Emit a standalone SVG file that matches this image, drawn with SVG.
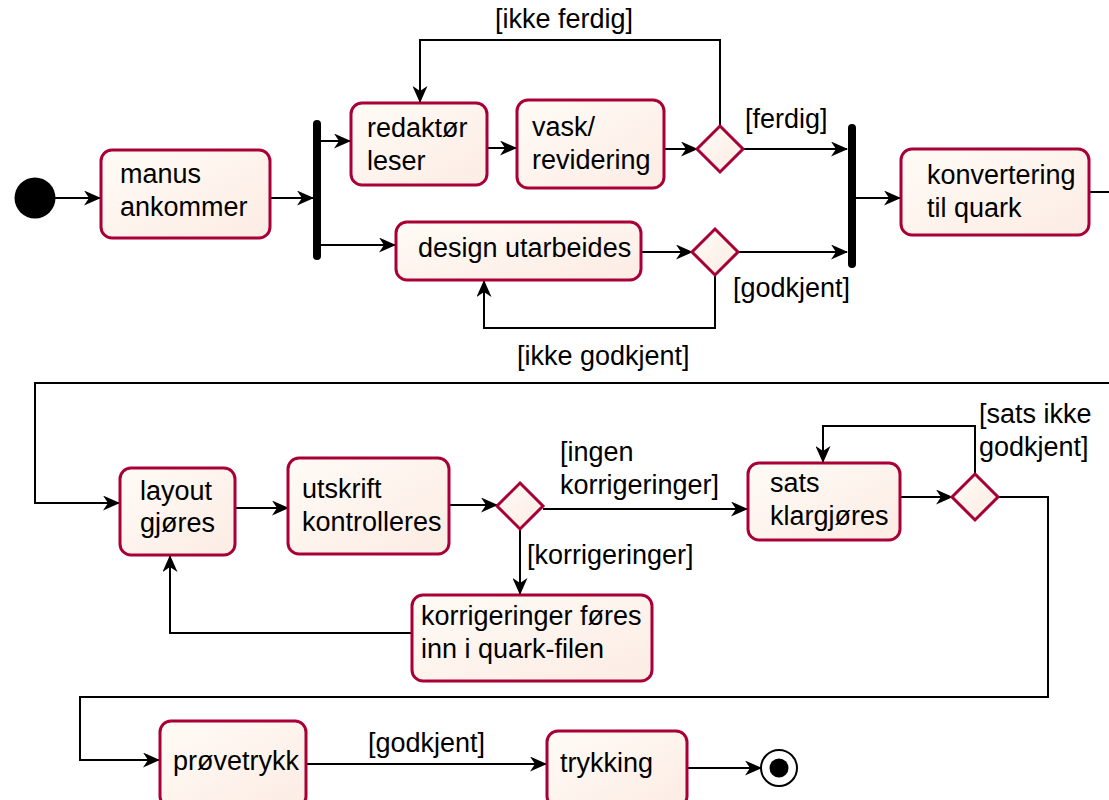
<svg xmlns="http://www.w3.org/2000/svg" width="1109" height="800" viewBox="0 0 1109 800">
  <defs>
    <linearGradient id="boxFill" x1="0" y1="0" x2="1" y2="1">
      <stop offset="0" stop-color="#fffbf6"/>
      <stop offset="1" stop-color="#fcece4"/>
    </linearGradient>
    <marker id="arrow" viewBox="0 0 17 15" refX="16" refY="7.5" markerWidth="17" markerHeight="15" markerUnits="userSpaceOnUse" orient="auto">
      <path d="M0,0 L17,7.5 L0,15 L5,7.5 Z" fill="#000"/>
    </marker>
  </defs>
  <style>
    .box { fill: url(#boxFill); stroke: #a80036; stroke-width: 3; }
    .dec { fill: url(#boxFill); stroke: #a80036; stroke-width: 3; }
    .bar { fill: #000; }
    .t { font-family: "Liberation Sans", Arial, sans-serif; font-size: 27px; fill: #000; }
    .edge { fill: none; stroke: #000; stroke-width: 2; marker-end: url(#arrow); }
  </style>
  <rect width="1109" height="800" fill="#fff"/>

  <!-- connectors -->
  <g id="connectors">
    <path class="edge" d="M55,198 H100"/>
    <path class="edge" d="M270,198 H313"/>
    <path class="edge" d="M321,141 H350"/>
    <path class="edge" d="M321,245 H395"/>
    <path class="edge" d="M487,148 H516"/>
    <path class="edge" d="M664,149 H697"/>
    <path class="edge" d="M720,126 V40 H420 V102"/>
    <path class="edge" d="M743,149 H847"/>
    <path class="edge" d="M641,252 H692"/>
    <path class="edge" d="M738,252 H847"/>
    <path class="edge" d="M715,275 V328 H484 V281"/>
    <path class="edge" d="M856,198 H900"/>
    <path class="edge" d="M1089,192 H1112 V383 H35 V503 H119"/>
    <path class="edge" d="M235,508 H288"/>
    <path class="edge" d="M449,505 H497"/>
    <path class="edge" d="M543,509 H747"/>
    <path class="edge" d="M520,529 V594"/>
    <path class="edge" d="M412,633 H170 V556"/>
    <path class="edge" d="M900,497 H952"/>
    <path class="edge" d="M975,474 V426 H823 V462"/>
    <path class="edge" d="M998,497 H1048 V697 H80 V760 H159"/>
    <path class="edge" d="M306,764 H546"/>
    <path class="edge" d="M687,768 H761"/>

    <text class="t" x="495" y="28">[ikke ferdig]</text>
    <text class="t" x="745" y="128">[ferdig]</text>
    <text class="t" x="733" y="297">[godkjent]</text>
    <text class="t" x="517" y="365">[ikke godkjent]</text>
    <text class="t" x="560" y="461">[ingen</text>
    <text class="t" x="560" y="494">korrigeringer]</text>
    <text class="t" x="527" y="564">[korrigeringer]</text>
    <text class="t" x="979" y="423">[sats ikke</text>
    <text class="t" x="979" y="456">godkjent]</text>
    <text class="t" x="368" y="752">[godkjent]</text>
  </g>

  <!-- start / end -->
  <g id="start"><circle cx="35" cy="198" r="20.5" fill="#000"/></g>
  <g id="end">
    <circle cx="779" cy="768" r="18" fill="#fff" stroke="#000" stroke-width="2"/>
    <circle cx="779" cy="768" r="9.5" fill="#000"/>
  </g>

  <!-- fork / join bars -->
  <g id="fork"><rect class="bar" x="313" y="120" width="8" height="140" rx="4"/></g>
  <g id="join"><rect class="bar" x="848" y="124" width="8" height="144" rx="4"/></g>

  <!-- actions -->
  <g id="manus">
    <rect class="box" x="101" y="150" width="169" height="88" rx="11"/>
    <text class="t" x="120" y="183">manus</text>
    <text class="t" x="120" y="216">ankommer</text>
  </g>
  <g id="redaktor">
    <rect class="box" x="351" y="103" width="136" height="82" rx="11"/>
    <text class="t" x="367" y="137">redaktør</text>
    <text class="t" x="367" y="170">leser</text>
  </g>
  <g id="vask">
    <rect class="box" x="517" y="100" width="147" height="88" rx="11"/>
    <text class="t" x="532" y="136">vask/</text>
    <text class="t" x="532" y="169">revidering</text>
  </g>
  <g id="design">
    <rect class="box" x="396" y="222" width="245" height="58" rx="11"/>
    <text class="t" x="418" y="257">design utarbeides</text>
  </g>
  <g id="konvertering">
    <rect class="box" x="901" y="149" width="188" height="86" rx="11"/>
    <text class="t" x="927" y="184">konvertering</text>
    <text class="t" x="927" y="217">til quark</text>
  </g>
  <g id="layout">
    <rect class="box" x="120" y="468" width="115" height="87" rx="11"/>
    <text class="t" x="140" y="500">layout</text>
    <text class="t" x="140" y="532">gjøres</text>
  </g>
  <g id="utskrift">
    <rect class="box" x="288" y="458" width="161" height="96" rx="11"/>
    <text class="t" x="302" y="498">utskrift</text>
    <text class="t" x="302" y="531">kontrolleres</text>
  </g>
  <g id="korrigeringer">
    <rect class="box" x="412" y="595" width="240" height="86" rx="11"/>
    <text class="t" x="421" y="625">korrigeringer føres</text>
    <text class="t" x="421" y="658">inn i quark-filen</text>
  </g>
  <g id="sats">
    <rect class="box" x="748" y="463" width="152" height="77" rx="11"/>
    <text class="t" x="770" y="492">sats</text>
    <text class="t" x="770" y="525">klargjøres</text>
  </g>
  <g id="provetrykk">
    <rect class="box" x="160" y="721" width="146" height="86" rx="11"/>
    <text class="t" x="173" y="770">prøvetrykk</text>
  </g>
  <g id="trykking">
    <rect class="box" x="547" y="731" width="140" height="76" rx="11"/>
    <text class="t" x="560" y="772">trykking</text>
  </g>

  <!-- decisions -->
  <g id="dec-ferdig"><path class="dec" d="M720,126 L743,149 L720,172 L697,149 Z"/></g>
  <g id="dec-godkjent"><path class="dec" d="M715,229 L738,252 L715,275 L692,252 Z"/></g>
  <g id="dec-korr"><path class="dec" d="M520,483 L543,506 L520,529 L497,506 Z"/></g>
  <g id="dec-sats"><path class="dec" d="M975,474 L998,497 L975,520 L952,497 Z"/></g>
</svg>
